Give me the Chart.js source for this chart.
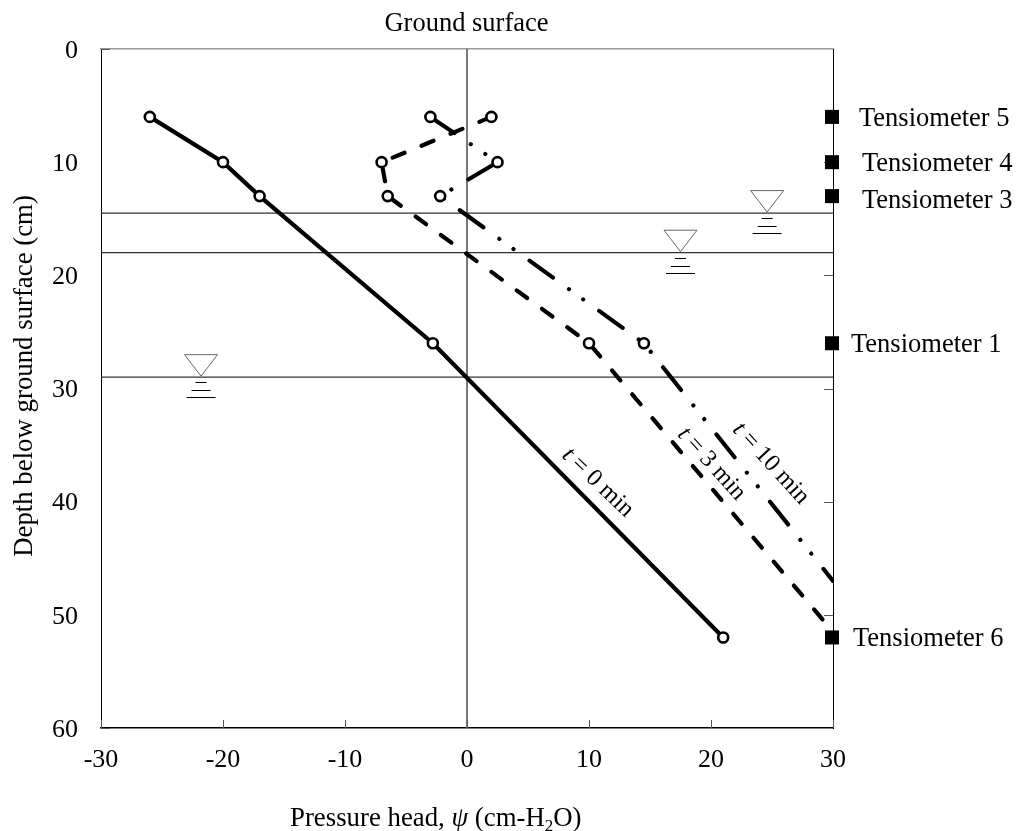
<!DOCTYPE html>
<html><head><meta charset="utf-8">
<style>html,body{margin:0;padding:0;background:#fff}canvas{display:block}</style>
<script src="https://cdn.jsdelivr.net/npm/chart.js@4"></script></head>
<body><div style="width:1016px;height:831px"><canvas id="c" width="1016" height="831"></canvas></div>
<script>
const t0Head=[-26,-20,-17,-2.8,21];
const t0Depth=[6,10,13,26,52];
const t3Head=[2,-7,-6.5,10,30];
const t3Depth=[6,10,13,26,51.5];
const t10Head=[-3,2.5,-2.2,14.5,30];
const t10Depth=[6,10,13,26,47];
const tensioHead=[30,30,30,30,30];
const tensioDepth=[6,10,13,26,52];
const tensioNames=['Tensiometer 5','Tensiometer 4','Tensiometer 3','Tensiometer 1','Tensiometer 6'];
const tensioLabelX=[859,862,862,851,853];
const tensioLabelDy=[0,0,3,0,0];
const waterDepth=[14.5,18,29];
const waterSymbolHead=[24.6,17.5,-21.8];
const xTicks=[-30,-20,-10,0,10,20,30];
const yTicks=[0,10,20,30,40,50,60];
const curveLabels=[['t',' = 0 min',7.7,36,43.6],['t',' = 3 min',17.2,34.1,48],['t',' = 10 min',21.7,33.7,47.5]];
const serif='"Liberation Serif","Times New Roman",serif';
const FS=26.5, TS=26.8;
const zip=(a,b)=>a.map((v,i)=>({x:v,y:b[i]}));
const hline=d=>({data:[{x:-30,y:d},{x:30,y:d}],borderColor:'#333',borderWidth:1.3,pointRadius:0,showLine:true,order:5});
const curve=(h,d,dash,lastOpen)=>({data:zip(h,d),showLine:true,borderColor:'#000',borderWidth:4.2,borderDash:dash,borderCapStyle:dash.length?'round':'butt',
 pointBackgroundColor:'#fff',pointBorderColor:'#000',pointBorderWidth:2.6,pointRadius:h.map((v,i)=>(lastOpen||i<h.length-1)?5:0),pointHoverRadius:5,order:2});
const overlay={id:'overlay',afterDatasetsDraw(ch){
 const c=ch.ctx,X=ch.scales.x,Y=ch.scales.y,A=ch.chartArea;
 c.save();
 // inward tick marks
 c.strokeStyle='#555';c.lineWidth=1;
 xTicks.forEach(v=>{const p=Math.round(X.getPixelForValue(v))+.5;c.beginPath();c.moveTo(p,A.bottom);c.lineTo(p,A.bottom-8);c.stroke();});
 yTicks.forEach((v,i)=>{const p=Math.round(Y.getPixelForValue(v))+.5;const edge=(i===0||i===yTicks.length-1);c.beginPath();
  if(edge){c.moveTo(A.left,p);c.lineTo(A.left+9,p);}else{c.moveTo(A.right,p);c.lineTo(A.right-9,p);}c.stroke();});
 // water table symbols
 waterDepth.forEach((d,i)=>{const px=X.getPixelForValue(waterSymbolHead[i]),py=Y.getPixelForValue(d);
  c.beginPath();c.moveTo(px,py-1);c.lineTo(px-16.5,py-22.5);c.lineTo(px+16.5,py-22.5);c.closePath();
  c.fillStyle='#fff';c.fill();c.strokeStyle='#666';c.lineWidth=1;c.stroke();
  c.strokeStyle='#000';c.lineWidth=1;
  [[5.5,5],[9.5,13],[14.5,20]].forEach(([w,o])=>{c.beginPath();c.moveTo(px-w,Math.round(py+o)+.5);c.lineTo(px+w,Math.round(py+o)+.5);c.stroke();});
 });
 // tensiometers
 c.fillStyle='#000';
 tensioDepth.forEach((d,i)=>{const px=X.getPixelForValue(tensioHead[i]),py=Y.getPixelForValue(d);
  c.fillRect(px-8,py-7,14,14);
  c.font=FS+'px '+serif;c.textBaseline='middle';c.textAlign='left';
  c.fillText(tensioNames[i],tensioLabelX[i],py+2+tensioLabelDy[i]);
 });
 // titles
 c.textAlign='center';c.textBaseline='alphabetic';c.font=FS+'px '+serif;
 c.fillText('Ground surface',466.5,31);
 c.textAlign='left';
 let tx=290,ty=826;
 const seg=(s,f,dy=0)=>{c.font=f;c.fillText(s,tx,ty+dy);tx+=c.measureText(s).width;};
 seg('Pressure head, ',TS+'px '+serif);seg('ψ','italic '+TS+'px '+serif);seg(' (cm-H',TS+'px '+serif);seg('2','17px '+serif,5);seg('O)',TS+'px '+serif);
 c.save();c.translate(32,376);c.rotate(-Math.PI/2);c.textAlign='center';c.font=TS+'px '+serif;c.fillText('Depth below ground surface (cm)',0,0);c.restore();
 // curve labels
 curveLabels.forEach(([a,b,h,d,r])=>{c.save();c.translate(X.getPixelForValue(h),Y.getPixelForValue(d));c.rotate(r*Math.PI/180);c.textAlign='left';c.textBaseline='alphabetic';
  c.font='italic 24.5px '+serif;c.fillText(a,0,0);const w=c.measureText(a).width;c.font='24.5px '+serif;c.fillText(b,w,0);c.restore();});
 c.restore();
}};
new Chart(document.getElementById('c'),{type:'scatter',
 data:{datasets:[hline(waterDepth[0]),hline(waterDepth[1]),hline(waterDepth[2]),
  {data:[{x:0,y:0},{x:0,y:60}],showLine:true,borderColor:'#666',borderWidth:1,pointRadius:0,order:5},
  curve(t0Head,t0Depth,[],true),curve(t3Head,t3Depth,[13,18.3],false),curve(t10Head,t10Depth,[29,19.7,0.01,17.5,0.01,19.7],false)]},
 plugins:[overlay],
 options:{responsive:false,animation:false,events:[],
  layout:{padding:{left:0,right:183,top:49,bottom:0}},
  plugins:{legend:{display:false},tooltip:{enabled:false}},
  scales:{
   x:{type:'linear',min:-30,max:30,afterFit:s=>{s.height=103},afterBuildTicks:s=>{s.ticks=xTicks.map(v=>({value:v}))},
    grid:{display:true,drawOnChartArea:false,drawTicks:false},border:{color:'#000',width:1.5},
    ticks:{autoSkip:false,maxRotation:0,color:'#000',font:{family:serif,size:26},padding:17}},
   y:{type:'linear',reverse:true,min:0,max:60,afterFit:s=>{s.width=101},afterBuildTicks:s=>{s.ticks=yTicks.map(v=>({value:v}))},
    grid:{display:true,drawOnChartArea:false,drawTicks:false},border:{color:'#000',width:1},
    ticks:{autoSkip:false,color:'#000',font:{family:serif,size:26},padding:23,labelOffset:2}},
   x2:{type:'linear',position:'top',min:-30,max:30,afterFit:s=>{s.height=0},ticks:{display:false},grid:{display:false},border:{color:'#999',width:1.5}},
   y2:{type:'linear',position:'right',min:0,max:60,reverse:true,afterFit:s=>{s.width=0},ticks:{display:false},grid:{display:false},border:{color:'#000',width:1}}
  }}});
</script></body></html>
